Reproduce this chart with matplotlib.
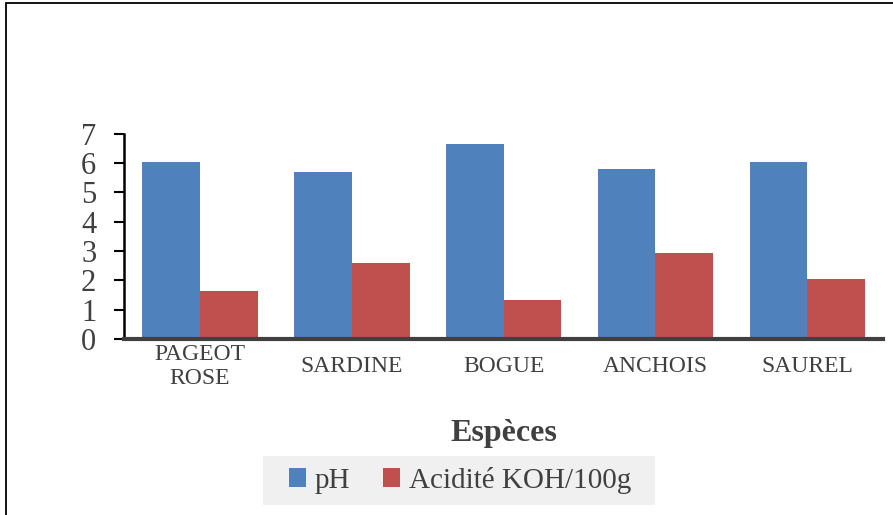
import numpy as np
import matplotlib.pyplot as plt
from matplotlib.patches import Rectangle

# data
especes = ["PAGEOT\nROSE", "SARDINE", "BOGUE", "ANCHOIS", "SAUREL"]
ph = [6.03, 5.70, 6.65, 5.80, 6.04]
acidite = [1.64, 2.60, 1.33, 2.93, 2.05]
y_ticks = [0, 1, 2, 3, 4, 5, 6, 7]

plt.rcParams["font.family"] = ["Liberation Serif", "DejaVu Serif"]

fig = plt.figure(figsize=(8.93, 5.15), dpi=100)
ax = fig.add_axes([0.139, 0.342, 0.850, 0.398])

x = np.arange(len(especes))
w = 0.38
ax.bar(x - w / 2, ph, w, color="#4f81bd", label="pH")
ax.bar(x + w / 2, acidite, w, color="#c0504d", label="Acidité KOH/100g")

ax.set_xlim(-0.5, 4.5)
ax.set_ylim(0, 7)
ax.set_yticks(y_ticks)
ax.set_xticks(x)
ax.set_xticklabels(especes, fontsize=17, color="#404040", linespacing=1.15)
for lab in ax.get_xticklabels():
    lab.set_verticalalignment("center")
ax.tick_params(axis="x", length=0, pad=20)
ax.tick_params(axis="y", direction="out", length=7, width=1.5, color="black",
               labelsize=22, labelcolor="#404040", pad=13)

for s in ["top", "right"]:
    ax.spines[s].set_visible(False)
ax.spines["left"].set_linewidth(1.8)
ax.spines["left"].set_color("black")
ax.spines["bottom"].set_linewidth(3)
ax.spines["bottom"].set_color("#404040")
ax.spines["bottom"].set_zorder(5)

ax.set_xlabel("Espèces", fontsize=23, fontweight="bold", color="#404040", labelpad=22)

# legend background box (wider than matplotlib's own frame)
fig.patches.append(Rectangle((0.2945, 0.0194), 0.439, 0.0951, transform=fig.transFigure,
                             facecolor="#f0f0f0", edgecolor="none"))
leg = fig.legend(loc="center", bbox_to_anchor=(0.515, 0.067), ncol=2,
                 fontsize=21, frameon=False,
                 handlelength=0.6, handleheight=0.6, handletextpad=0.3,
                 columnspacing=1.1, borderpad=0.2, borderaxespad=0)
for t in leg.get_texts():
    t.set_color("#404040")

# outer chart frame
fig.patches.append(Rectangle((0.007, -0.05), 1.1, 1.044, transform=fig.transFigure,
                             fill=False, edgecolor="black", linewidth=1.3))

fig.savefig("out.png", dpi=100)
